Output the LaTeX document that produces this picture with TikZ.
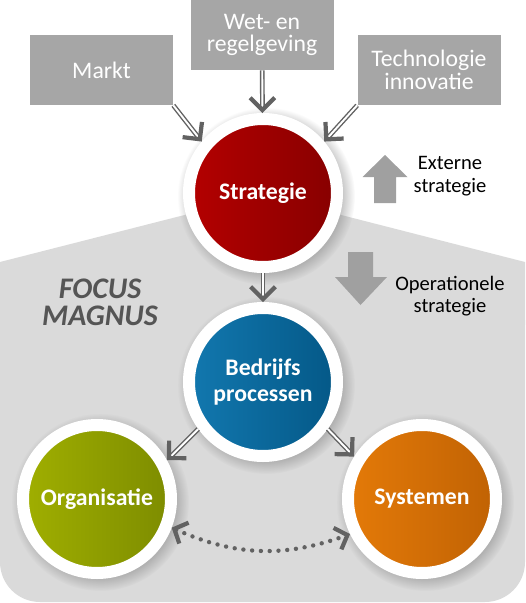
\documentclass[tikz,border=0pt]{standalone}
\usepackage{fontspec}
\setmainfont{Carlito}
\usepackage{xcolor}
\usepackage{tikz}
\usetikzlibrary{arrows.meta, positioning, shadows}
\definecolor{kadergrijs}{RGB}{166,166,166}
\definecolor{vlakgrijs}{RGB}{218,218,218}
\definecolor{pijlgrijs}{RGB}{98,98,98}
\definecolor{blokgrijs}{RGB}{160,160,160}
\definecolor{focusgrijs}{RGB}{85,85,85}
\definecolor{roodlicht}{RGB}{180,0,0}
\definecolor{rooddonker}{RGB}{135,0,0}
\definecolor{blauwlicht}{RGB}{18,120,175}
\definecolor{blauwdonker}{RGB}{4,88,135}
\definecolor{groenlicht}{RGB}{160,175,0}
\definecolor{groendonker}{RGB}{125,140,0}
\definecolor{oranjelicht}{RGB}{228,122,8}
\definecolor{oranjedonker}{RGB}{192,98,4}

\begin{document}
\begin{tikzpicture}[
    kader/.style={rectangle, fill=kadergrijs, text=white, minimum width=2.86cm, minimum height=1.4cm, inner sep=2pt, align=center, font=\fontsize{13.5}{12.8}\selectfont},
    bol/.style={circle, draw=white, line width=0.24cm, minimum size=2.96cm, inner sep=0pt, text=white, align=center, font=\fontsize{13.5}{14.5}\selectfont\bfseries,
        circular drop shadow={shadow xshift=1.5pt, shadow yshift=-1.5pt, shadow scale=1.2, opacity=0.45}},
    dubbel/.style={draw=pijlgrijs, double=white, double distance=1.1pt, line width=0.8pt, -{Straight Barb[length=7pt, width=14pt, line width=2.4pt]}},
    stippel/.style={draw=pijlgrijs, line width=2.5pt, line cap=round, dash pattern=on 0pt off 5pt, {Straight Barb[length=6pt, width=13pt, line width=2.4pt]}-{Straight Barb[length=6pt, width=13pt, line width=2.4pt]}},
    uitleg/.style={align=center, font=\fontsize{11.7}{12.8}\selectfont}
]
    \useasboundingbox (0,0) rectangle (10.5,-12.06);

    % achtergrondvlak
    \fill[vlakgrijs] (0,-5.24) -- (5.26,-3.9) -- (10.5,-5.24) -- (10.5,-6.5) -- (0,-6.5) -- cycle;
    \fill[vlakgrijs, rounded corners=0.8cm] (0,-5.6) rectangle (10.5,-12.04);

    % externe factoren
    \node[kader] (markt) at (2.03,-1.4) {Markt};
    \node[kader] (wet) at (5.24,-0.7) {Wet- en\\regelgeving};
    \node[kader] (tech) at (8.58,-1.4) {Technologie\\innovatie};

    % cirkels
    \node[bol, left color=roodlicht, right color=rooddonker] (strat) at (5.26,-3.86) {Strategie};
    \node[bol, left color=blauwlicht, right color=blauwdonker] (bedr) at (5.26,-7.64) {Bedrijfs\\processen};
    \node[bol, left color=groenlicht, right color=groendonker] (org) at (1.94,-9.98) {Organisatie};
    \node[bol, left color=oranjelicht, right color=oranjedonker] (sys) at (8.44,-9.98) {Systemen};

    % blokpijlen
    \fill[blokgrijs] (7.7,-3.1) -- (8.15,-3.54) -- (7.92,-3.54) -- (7.92,-4.06) -- (7.48,-4.06) -- (7.48,-3.54) -- (7.25,-3.54) -- cycle;
    \fill[blokgrijs] (7.21,-6.1) -- (7.74,-5.54) -- (7.46,-5.54) -- (7.46,-5.04) -- (6.96,-5.04) -- (6.96,-5.54) -- (6.70,-5.54) -- cycle;

    \node[uitleg] (extern) at (9.0,-3.52) {Externe\\strategie};
    \node[uitleg] (oper) at (9.0,-5.92) {Operationele\\strategie};
    \node[align=center, text=focusgrijs, font=\fontsize{17}{15.5}\selectfont\bfseries\itshape] (focus) at (2.0,-6.04) {FOCUS\\MAGNUS};

    % verbindingen
    \draw[dubbel] (markt.south east) -- (strat.140);
    \draw[dubbel] (wet) -- (strat);
    \draw[dubbel] (tech.south west) -- (strat.40);
    \draw[dubbel] (strat) -- (bedr);
    \draw[dubbel] (bedr.216) -- (org.29);
    \draw[dubbel] (bedr.324) -- (sys.148);
    \draw[stippel] (org.339) to[bend right=22] (sys.206);
\end{tikzpicture}
\end{document}
